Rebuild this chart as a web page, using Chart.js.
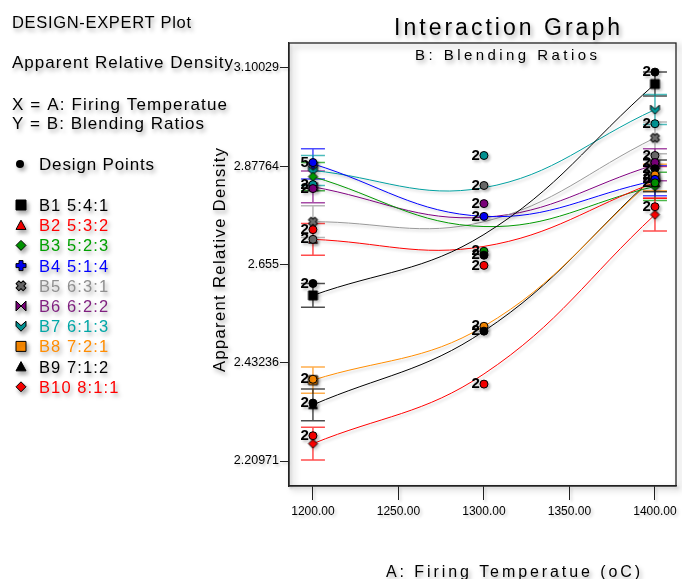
<!DOCTYPE html>
<html>
<head>
<meta charset="utf-8">
<script src="https://cdn.jsdelivr.net/npm/chart.js@4.4.0/dist/chart.umd.min.js"></script>
<style>
    html, body { margin: 0; padding: 0; background: #fff; }
    #wrap { width: 682px; height: 579px; position: relative; }
</style>
</head>
<body>
<div id="wrap"><canvas id="myChart"></canvas></div>
<script>
// ---- data ----
const temps = [1200, 1300, 1400];
const seriesNames = ['B1 5:4:1', 'B2 5:3:2', 'B3 5:2:3', 'B4 5:1:4', 'B5 6:3:1',
                     'B6 6:2:2', 'B7 6:1:3', 'B8 7:2:1', 'B9 7:1:2', 'B10 8:1:1'];

// model (fitted) values at 1200 / 1300 / 1400
const fitB1  = [2.585, 2.723, 3.064];
const fitB2  = [2.712, 2.696, 2.841];
const fitB3  = [2.854, 2.741, 2.832];
const fitB4  = [2.883, 2.764, 2.845];
const fitB5  = [2.752, 2.752, 2.942];
const fitB6  = [2.831, 2.762, 2.881];
const fitB7  = [2.868, 2.829, 3.006];
const fitB8  = [2.393, 2.515, 2.852];
const fitB9  = [2.337, 2.504, 2.856];
const fitB10 = [2.249, 2.407, 2.768];
const fits = [fitB1, fitB2, fitB3, fitB4, fitB5, fitB6, fitB7, fitB8, fitB9, fitB10];

// LSD half-widths (shown at 1200 and 1400)
const lsdHalf = [0.027, 0.036, 0.032, 0.034, 0.036, 0.036, 0.034, 0.030, 0.036, 0.037];

// design points: series index, temperature, value, replicate count
const designSeries = [3, 6, 5, 1, 4, 0, 7, 8, 9,
                      6, 4, 5, 3, 2, 0, 1, 7, 8, 9,
                      0, 6, 4, 5, 8, 7, 3, 2, 9];
const designTemp   = [1200, 1200, 1200, 1200, 1200, 1200, 1200, 1200, 1200,
                      1300, 1300, 1300, 1300, 1300, 1300, 1300, 1300, 1300, 1300,
                      1400, 1400, 1400, 1400, 1400, 1400, 1400, 1400, 1400];
const designValue  = [2.886, 2.836, 2.827, 2.734, 2.712, 2.612, 2.395, 2.341, 2.267,
                      2.902, 2.834, 2.793, 2.764, 2.685, 2.676, 2.653, 2.515, 2.504, 2.384,
                      3.091, 2.974, 2.902, 2.886, 2.872, 2.858, 2.848, 2.840, 2.786];
const designCount  = [5, 2, 2, 2, 2, 2, 2, 2, 2,
                      2, 2, 2, 2, 2, 2, 2, 2, 2, 2,
                      2, 2, 2, 2, 2, 2, 2, 2, 2];

const xTicks = [1200, 1250, 1300, 1350, 1400];
const yTickValues = [2.20971, 2.43236, 2.655, 2.87764, 3.10029];
const yTickLabels = ['2.20971', '2.43236', '2.655', '2.87764', '3.10029'];

// ---- styles ----
const FONT = '"Liberation Sans", Arial, sans-serif';
const lineColors = ['#000000', '#ff0000', '#009900', '#0000ff', '#999999',
                    '#800080', '#00a0a0', '#ff8c00', '#000000', '#ff0000'];
const textColors = ['#000000', '#ff0000', '#00a000', '#0000ff', '#8f8f8f',
                    '#7f1f7f', '#00a6a6', '#ff8c00', '#000000', '#ff0000'];
const markerFill = ['#000000', '#ff0000', '#009900', '#0000ff', '#6e6e6e',
                    '#800080', '#009999', '#ff8c00', '#000000', '#ff0000'];
const markerShape = ['square', 'triangle', 'diamond', 'plus', 'x',
                     'bowtie', 'chevron', 'square', 'triangle', 'diamond'];

function drawShape(ctx, shape, x, y, s, fill) {
    const h = s / 2;
    ctx.save();
    ctx.fillStyle = fill;
    ctx.strokeStyle = '#000';
    ctx.lineWidth = 1;
    ctx.lineJoin = 'round';
    ctx.beginPath();
    if (shape === 'square') {
        ctx.rect(x - h, y - h, s, s);
    } else if (shape === 'triangle') {
        ctx.moveTo(x, y - h);
        ctx.lineTo(x + h, y + h * 0.85);
        ctx.lineTo(x - h, y + h * 0.85);
        ctx.closePath();
    } else if (shape === 'diamond') {
        ctx.moveTo(x, y - h);
        ctx.lineTo(x + h, y);
        ctx.lineTo(x, y + h);
        ctx.lineTo(x - h, y);
        ctx.closePath();
    } else if (shape === 'plus' || shape === 'x') {
        const t = s * 0.2;
        ctx.translate(x, y);
        if (shape === 'x') ctx.rotate(Math.PI / 4);
        const pts = [[-t, -h], [t, -h], [t, -t], [h, -t], [h, t], [t, t],
                     [t, h], [-t, h], [-t, t], [-h, t], [-h, -t], [-t, -t]];
        pts.forEach((p, i) => i ? ctx.lineTo(p[0], p[1]) : ctx.moveTo(p[0], p[1]));
        ctx.closePath();
    } else if (shape === 'bowtie') {
        ctx.moveTo(x - h, y - h);
        ctx.lineTo(x, y);
        ctx.lineTo(x + h, y - h);
        ctx.lineTo(x + h, y + h);
        ctx.lineTo(x, y);
        ctx.lineTo(x - h, y + h);
        ctx.closePath();
    } else if (shape === 'chevron') {
        ctx.moveTo(x - h, y - h);
        ctx.lineTo(x, y - h * 0.1);
        ctx.lineTo(x + h, y - h);
        ctx.lineTo(x + h, y);
        ctx.lineTo(x, y + h);
        ctx.lineTo(x - h, y);
        ctx.closePath();
    } else {
        ctx.arc(x, y, h, 0, Math.PI * 2);
    }
    ctx.fill();
    ctx.stroke();
    ctx.restore();
}

function markerCanvas(shape, fill, s) {
    const c = document.createElement('canvas');
    c.width = s + 4;
    c.height = s + 4;
    drawShape(c.getContext('2d'), shape, (s + 4) / 2, (s + 4) / 2, s, fill);
    return c;
}

// text stretched to a target width with letter spacing
function fitText(ctx, text, x, y, size, width, color, weight) {
    ctx.save();
    ctx.font = (weight || '') + ' ' + size + 'px ' + FONT;
    ctx.letterSpacing = '0px';
    const w = ctx.measureText(text).width;
    ctx.letterSpacing = ((width - w) / (text.length - 1)) + 'px';
    ctx.fillStyle = color || '#000';
    ctx.textAlign = 'left';
    ctx.textBaseline = 'alphabetic';
    ctx.fillText(text, x, y);
    ctx.restore();
}

function setShadow(ctx, a) {
    ctx.shadowColor = 'rgba(0,0,0,' + a + ')';
    ctx.shadowBlur = 3;
    ctx.shadowOffsetX = 2;
    ctx.shadowOffsetY = 2;
}

// ---- datasets ----
const datasets = [];
fits.forEach((f, i) => {
    datasets.push({
        label: seriesNames[i],
        data: temps.map((t, j) => ({ x: t, y: f[j] })),
        borderColor: lineColors[i],
        borderWidth: 1,
        tension: 0.4,
        fill: false,
        pointStyle: markerCanvas(markerShape[i], markerFill[i], 9),
        pointRadius: [5, 0, 5],
        order: 2
    });
});
datasets.push({
    label: 'Design Points',
    data: designTemp.map((t, k) => ({ x: t, y: designValue[k] })),
    showLine: false,
    pointStyle: 'circle',
    pointRadius: 4,
    pointBorderWidth: 1,
    pointBorderColor: '#000',
    pointBackgroundColor: designSeries.map(s => markerFill[s]),
    order: 1
});

const decorPlugin = {
    id: 'decor',
    beforeDraw(chart) {
        setShadow(chart.ctx, 0.22);
    },
    beforeDatasetsDraw(chart) {
        const ctx = chart.ctx;
        const xs = chart.scales.x, ys = chart.scales.y;
        ctx.save();
        ctx.shadowColor = 'transparent';
        fits.forEach((f, i) => {
            [0, 2].forEach(j => {
                const px = xs.getPixelForValue(temps[j]);
                const top = ys.getPixelForValue(f[j] + lsdHalf[i]);
                const bot = ys.getPixelForValue(f[j] - lsdHalf[i]);
                ctx.strokeStyle = lineColors[i];
                ctx.globalAlpha = 0.7;
                ctx.lineWidth = 1.5;
                ctx.beginPath();
                ctx.moveTo(px, top); ctx.lineTo(px, bot);
                ctx.moveTo(px - 12, top); ctx.lineTo(px + 12, top);
                ctx.moveTo(px - 12, bot); ctx.lineTo(px + 12, bot);
                ctx.stroke();
            });
        });
        ctx.restore();
    },
    afterDatasetsDraw(chart) {
        const ctx = chart.ctx;
        const meta = chart.getDatasetMeta(chart.data.datasets.length - 1);
        ctx.save();
        setShadow(ctx, 0.25);
        ctx.font = 'bold 15px ' + FONT;
        ctx.fillStyle = '#000';
        ctx.textAlign = 'right';
        ctx.textBaseline = 'middle';
        meta.data.forEach((pt, k) => {
            ctx.fillText(String(designCount[k]), pt.x - 4, pt.y);
        });
        ctx.restore();
    },
    afterDraw(chart) {
        const ctx = chart.ctx;
        const a = chart.chartArea;
        ctx.save();
        // plot frame
        ctx.shadowColor = 'rgba(0,0,0,0.35)';
        ctx.shadowBlur = 6;
        ctx.shadowOffsetX = 4;
        ctx.shadowOffsetY = 3;
        ctx.strokeStyle = '#222';
        ctx.lineWidth = 1.3;
        ctx.strokeRect(a.left, a.top, a.right - a.left, a.bottom - a.top);
        ctx.restore();

        ctx.save();
        ctx.shadowColor = 'rgba(0,0,0,0.35)';
        ctx.shadowBlur = 4;
        ctx.shadowOffsetX = 2;
        ctx.shadowOffsetY = 3;
        // titles
        fitText(ctx, 'Interaction Graph', 394, 35, 23, 226, '#000');
        fitText(ctx, 'B: Blending Ratios', 415, 60, 15, 182, '#000');
        fitText(ctx, 'A: Firing Temperatue (oC)', 386, 577, 16, 254, '#000');
        // y axis title
        ctx.save();
        ctx.translate(225, 372);
        ctx.rotate(-Math.PI / 2);
        fitText(ctx, 'Apparent Relative Density', 0, 0, 16.5, 224, '#000');
        ctx.restore();

        // left information panel
        fitText(ctx, 'DESIGN-EXPERT Plot', 12, 28, 16.5, 179, '#000');
        fitText(ctx, 'Apparent Relative Density', 12, 68, 17, 221, '#000');
        fitText(ctx, 'X = A: Firing Temperatue', 12, 110, 17, 215, '#000');
        fitText(ctx, 'Y = B: Blending Ratios', 12, 129, 17, 192, '#000');
        ctx.fillStyle = '#000';
        ctx.beginPath();
        ctx.arc(20, 164, 4, 0, Math.PI * 2);
        ctx.fill();
        fitText(ctx, 'Design Points', 39, 170, 17, 115, '#000');

        seriesNames.forEach((name, i) => {
            const base = 211 + i * 20.2;
            drawShape(ctx, markerShape[i], 21, base - 6, 10, markerFill[i]);
            ctx.save();
            ctx.font = '16.5px ' + FONT;
            ctx.letterSpacing = '1.1px';
            ctx.fillStyle = textColors[i];
            ctx.fillText(name, 39, base);
            ctx.restore();
        });
        ctx.restore();
    }
};

const config = {
    type: 'line',
    data: { datasets },
    options: {
        responsive: true,
        maintainAspectRatio: false,
        animation: false,
        layout: { padding: { left: 209, right: 6, top: 43, bottom: 53 } },
        plugins: {
            legend: { display: false },
            tooltip: { enabled: false },
            title: { display: false }
        },
        scales: {
            x: {
                type: 'linear',
                min: 1186,
                max: 1412.3,
                afterBuildTicks: s => { s.ticks = xTicks.map(v => ({ value: v })); },
                afterFit: s => { s.height = 40; },
                ticks: {
                    color: '#000',
                    font: { family: FONT, size: 12 },
                    padding: 4,
                    maxRotation: 0,
                    callback: v => Number(v).toFixed(2)
                },
                grid: { drawOnChartArea: false, drawTicks: true, tickLength: 14, color: '#222' },
                border: { display: true, color: '#222', width: 1.3 }
            },
            y: {
                type: 'linear',
                min: 2.1531,
                max: 3.1569,
                afterBuildTicks: s => { s.ticks = yTickValues.map(v => ({ value: v })); },
                afterFit: s => { s.width = 80; },
                ticks: {
                    color: '#000',
                    font: { family: FONT, size: 12.5 },
                    padding: 1,
                    callback: (v, i) => yTickLabels[i]
                },
                grid: { drawOnChartArea: false, drawTicks: true, tickLength: 9, color: '#222' },
                border: { display: true, color: '#222', width: 1.3 }
            }
        }
    },
    plugins: [decorPlugin]
};

var myChart = new Chart(document.getElementById('myChart'), config);
</script>
</body>
</html>
